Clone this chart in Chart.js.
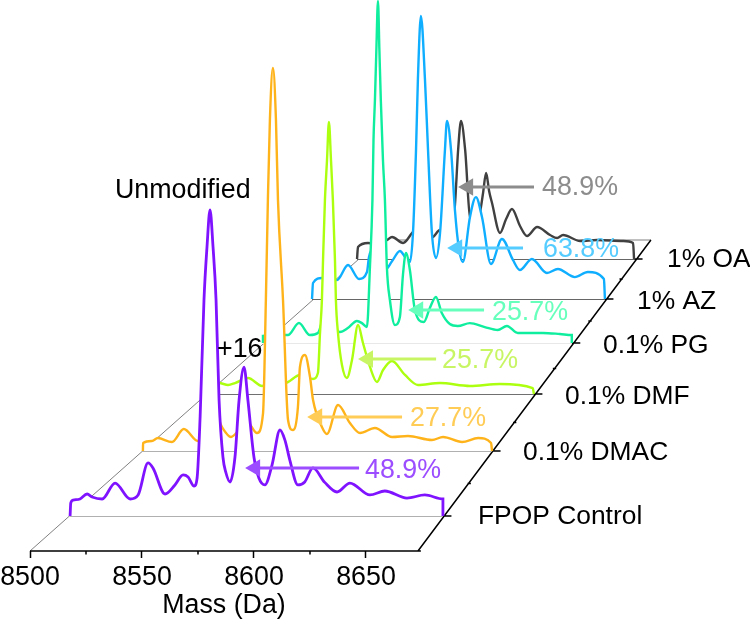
<!DOCTYPE html>
<html>
<head>
<meta charset="utf-8">
<title>Mass spectra waterfall</title>
<script src="https://cdn.jsdelivr.net/npm/chart.js@4"></script>
<style>
html, body { margin: 0; padding: 0; background: #fff; }
canvas { display: block; }
</style>
</head>
<body>
<canvas id="waterfall" width="750" height="621"></canvas>
<script>
var tick_values = [8500, 8550, 8600, 8650];
var minor_tick_values = [8525, 8575, 8625];
var sample_names = ["FPOP Control", "0.1% DMAC", "0.1% DMF", "0.1% PG", "1% AZ", "1% OA"];
var percent_labels = ["48.9%", "27.7%", "25.7%", "25.7%", "63.8%", "48.9%"];

var fpop_mass = [8500,8500.3,8501.4,8504.6,8507.9,8510.2,8514.9,8520.9,8527.9,8531.6,8536.2,8538.5,8544.1,8548.7,8552.5,8554.8,8557.6,8559,8560.4,8562.2,8563.6,8565,8566.4,8567.8,8569.2,8571,8572.4,8574.3,8576.6,8578.5,8580.8,8582.6,8585.4,8587.7,8590.5,8593.8,8597.5,8599.8,8602.1,8605.8,8609,8612.8,8618.3,8624,8630,8639.3,8646.2,8656.5,8664.8,8673.2,8673.2];
var fpop_int = [0,13.5,16.6,17.7,22.9,19.8,17.7,34.3,17.7,21.9,55.2,49.9,22.9,32.3,42.7,40.6,31.2,39.5,103,225,280,318.4,280,225,120.7,61.4,45,35.4,61.4,120.7,155,120.7,61.4,39.5,32.3,53,89.5,79,58,32.3,35.4,50,35,25,34.3,21.9,26,18.7,21.9,17.7,0];

var dmac_mass = [8500,8500.1,8504.5,8507.4,8514.4,8520.3,8527.3,8532.2,8536.2,8539.2,8543.7,8548.1,8552.1,8556.6,8559.6,8561,8562,8563,8564.5,8566,8567,8569.5,8572,8574.4,8576.9,8577.9,8580.4,8582.9,8584.4,8588.8,8591.3,8596.8,8602.7,8607.7,8615.1,8623.6,8631.5,8643.4,8648.9,8658.3,8666.3,8672.7,8673.2];
var dmac_int = [0,8.9,11.1,14.4,10,24.4,11.1,14,40,26.7,15.6,24,31,20,42.2,167.8,279,368,425.6,368,279,167.8,34.4,23.3,48.9,93.3,106.7,82.2,56.7,26.7,18.9,51.1,31.1,20,25.6,15.6,16.7,12.2,15.6,10,14.4,8.9,0];

var dmf_mass = [8500,8500,8502.1,8506.9,8511.6,8515.3,8522.2,8529.6,8536,8541.7,8549.6,8556.5,8559.1,8560.2,8561.2,8561.8,8562.8,8563.9,8564.9,8566,8567,8568.1,8568.6,8569.7,8571.8,8574.4,8577.1,8580.3,8582.9,8586.6,8590.3,8593.5,8598.2,8605.1,8611.9,8623.5,8639.4,8655.2,8672.6,8673.2];
var dmf_int = [0,7,11.8,13,10.7,13,18.9,9.5,23.7,13,22.5,17.8,24.9,72.2,111,158.6,229.6,276.9,321.9,276.9,229.6,158.6,111,72.2,34.3,18.9,40.2,81.7,60.4,32,14.2,28.4,39,22.5,10.7,13,9.5,11.8,7,0];

var pg_mass = [8500,8500,8503.9,8511.2,8514,8520.2,8526.3,8530.8,8535.3,8539.8,8543.2,8547.6,8552.7,8555.5,8558.3,8560,8561.4,8562,8562.8,8563.6,8564.5,8565.3,8566.1,8567.3,8568.4,8569.5,8571.2,8574,8576.8,8578.5,8580.2,8582.4,8585.2,8590.2,8593.6,8597,8600.3,8604.8,8609.3,8616,8624.4,8631.7,8636.8,8642.9,8649.7,8657,8666.5,8673.2,8673.2];
var pg_int = [0,8.8,12.6,10,10,25.1,10,12.6,39,17.6,13.8,18.8,27.6,25,20.1,95.5,179.6,255,305.3,368,429.6,368,305.3,229.9,179.6,95.5,54,22.6,32.7,85.4,113,91.7,41.5,26.4,44,57.8,37.7,23.9,21.4,25,20,16.3,21.4,12.6,12.6,12.6,11.3,10,0];

var az_mass = [8500,8500.6,8505.9,8510.6,8514.8,8521.3,8527.8,8532.5,8533.7,8536.1,8539.6,8543.1,8547.3,8552,8555,8557.9,8559.7,8561.5,8562.6,8564.4,8566.8,8568.6,8570.9,8573.3,8575.7,8578.6,8579.8,8582.2,8584.5,8586.9,8589.2,8593.4,8596.9,8600.5,8605.8,8612.3,8618.8,8622.9,8630,8638.9,8645.4,8655.4,8663.1,8672.6,8673.2];
var az_int = [0,21.2,27.8,26.5,25.2,45,26.5,35.8,55.6,66.2,50,38.4,50,63.6,55.6,49,87.4,197.4,290,374.8,290,197.4,87.4,54.3,87.4,197.4,235.8,197.4,117.9,66,49,108.6,135,108.6,46.4,79.5,51.7,38.4,53,34.4,39.7,29,35.8,26.5,0];

var oa_mass = [8500,8500.6,8506.9,8512.5,8518.8,8521.9,8528.8,8534.4,8538.1,8542.5,8547.5,8551.9,8555.7,8559.4,8561.3,8563.2,8565,8567.6,8570.7,8573.8,8576.9,8578.8,8580.7,8582.6,8584.4,8589.4,8593.2,8596.9,8601.9,8606.3,8612.6,8620.7,8625.1,8628.8,8639.5,8650.1,8666.4,8672.6,8673.2];
var oa_int = [0,16.8,22.4,21,26.6,30.8,22.4,36.4,46,28,30.8,40.6,30.8,35,78.4,152.7,193.3,152.7,58.8,56,65.8,92.4,120.4,95,78.4,36.4,56,70,46.2,32.2,44.8,33.6,29.4,33.6,25.2,26.6,25.2,22.4,0];

// depth of each spectrum: where its mass axis starts, its height and its shrink
var trace_left = [8517.9, 8550.4, 8578.6, 8604, 8625.9, 8646];
var trace_base = [35, 100, 157, 208, 252, 292];
var trace_scale = [0.961, 0.9, 0.845, 0.796, 0.755, 0.714];
var mass_range = 173.2;

var trace_colors = ["#7f12ff", "#ffb31a", "#abff0f", "#0fee9e", "#0faeff", "#404040"];
var label_colors = ["#9b4dff", "#ffcc55", "#c8f564", "#66ffbb", "#55ccff", "#8c8c8c"];
var base_colors = ["#b0b0b0", "#b0b0b0", "#707070", "#e8e8e8", "#666666", "#666666"];
var trace_widths = [2.8, 2.4, 2.4, 2.4, 2.4, 2.4];

var masses = [fpop_mass, dmac_mass, dmf_mass, pg_mass, az_mass, oa_mass];
var intensities = [fpop_int, dmac_int, dmf_int, pg_int, az_int, oa_int];

// arrows in axis units: tip mass, tail mass, height
var arrow_tip = [8596, 8623.7, 8646.4, 8668.8, 8686.2, 8691.1];
var arrow_tail = [8646.9, 8666.1, 8681.3, 8702.7, 8720.1, 8725];
var arrow_y = [83, 134, 192, 241, 303, 364];

var font = '"Liberation Sans", Arial, sans-serif';

function buildDatasets(){
    var datasets = [];
    var i;
    for(i = 0; i < arrow_tip.length; i++){
        datasets.push({
            data: [{x: arrow_tip[i] + 4.5, y: arrow_y[i]}, {x: arrow_tail[i], y: arrow_y[i]}],
            borderColor: label_colors[i],
            borderWidth: 3,
            pointRadius: [10, 0],
            pointStyle: "triangle",
            pointRotation: -90,
            pointBackgroundColor: label_colors[i],
            pointBorderWidth: 0,
            fill: false,
            clip: false
        });
    }
    for(i = 0; i < masses.length; i++){
        var points = [];
        for(var j = 0; j < masses[i].length; j++){
            points.push({
                x: trace_left[i] + (masses[i][j] - 8500) * trace_scale[i],
                y: trace_base[i] + intensities[i][j] * trace_scale[i]
            });
        }
        datasets.push({
            data: points,
            borderColor: trace_colors[i],
            borderWidth: trace_widths[i],
            pointRadius: 0,
            cubicInterpolationMode: "monotone",
            fill: {target: {value: trace_base[i]}, above: "#fff", below: "#fff"},
            clip: false
        });
        datasets.push({
            data: [{x: trace_left[i], y: trace_base[i]}, {x: trace_left[i] + mass_range * trace_scale[i], y: trace_base[i]}],
            borderColor: base_colors[i],
            borderWidth: 2,
            pointRadius: 0,
            fill: false,
            clip: false
        });
    }
    // frame: bottom edge, right edge, back edge, left edge, ticks
    var end = 8500 + mass_range;
    var frame = [
        {x: 8500, y: 0}, {x: end + 1.3, y: 0}, {x: NaN, y: NaN},
        {x: end, y: 0}, {x: 8777.2, y: 311}, {x: NaN, y: NaN}
    ];
    minor_tick_values.forEach(function(v){
        frame.push({x: v, y: 0}, {x: v, y: -3.5}, {x: NaN, y: NaN});
    });
    for(i = 0; i < trace_left.length; i++){
        var right = trace_left[i] + mass_range * trace_scale[i];
        frame.push({x: right, y: trace_base[i]}, {x: right + 3.8, y: trace_base[i]}, {x: NaN, y: NaN});
        if(i < trace_left.length - 1){
            var next = trace_left[i + 1] + mass_range * trace_scale[i + 1];
            var mid_x = (right + next) / 2;
            var mid_y = (trace_base[i] + trace_base[i + 1]) / 2;
            frame.push({x: mid_x, y: mid_y}, {x: mid_x + 1.5, y: mid_y}, {x: NaN, y: NaN});
        }
    }
    datasets.push({data: frame, borderColor: "#000", borderWidth: 1.5, pointRadius: 0, fill: false, clip: false, spanGaps: false});
    datasets.push({
        data: [{x: 8500, y: 0}, {x: 8656.4, y: 311}, {x: 8777.2, y: 311}],
        borderColor: "#808080",
        borderWidth: 1,
        pointRadius: 0,
        fill: false,
        clip: false
    });
    return datasets;
}

var textPlugin = {
    id: "textPlugin",
    afterDraw: function(chart){
        var ctx = chart.ctx;
        var name_x = [478, 523, 565, 603, 637, 667];
        var name_y = [517, 453, 397, 346, 302, 260];
        var pct_x = [365, 410, 442, 492, 543, 542];
        var pct_y = [471, 419, 361, 313, 250, 188];
        ctx.save();
        ctx.textBaseline = "middle";
        ctx.textAlign = "left";
        for(var i = 0; i < sample_names.length; i++){
            ctx.font = "26.4px " + font;
            ctx.fillStyle = "#000";
            ctx.fillText(sample_names[i], name_x[i], name_y[i]);
            ctx.font = "26.8px " + font;
            ctx.fillStyle = label_colors[i];
            ctx.fillText(percent_labels[i], pct_x[i], pct_y[i]);
        }
        ctx.fillStyle = "#000";
        ctx.fillText("Unmodified", 115, 191);
        ctx.fillText("+16", 217, 350);
        ctx.textAlign = "center";
        ctx.fillText("Mass (Da)", 224, 606);
        ctx.restore();
    }
};

new Chart(document.getElementById("waterfall").getContext("2d"), {
    type: "line",
    data: {datasets: buildDatasets()},
    plugins: [textPlugin],
    options: {
        responsive: false,
        animation: false,
        layout: {autoPadding: false, padding: {left: 30, right: 0, top: 0, bottom: 0}},
        plugins: {legend: {display: false}, tooltip: {enabled: false}},
        scales: {
            x: {
                type: "linear",
                min: 8500,
                max: 8821.43,
                afterBuildTicks: function(axis){
                    axis.ticks = tick_values.map(function(v){ return {value: v}; });
                },
                afterFit: function(axis){
                    axis.height = 70;
                    axis.paddingLeft = 0;
                    axis.paddingRight = 0;
                },
                border: {display: false},
                grid: {drawOnChartArea: false, tickLength: 7, tickColor: "#000", tickWidth: 1.5},
                ticks: {
                    color: "#000",
                    font: {family: font, size: 26.8},
                    padding: 4,
                    autoSkip: false,
                    maxRotation: 0,
                    callback: function(v){ return String(v); }
                }
            },
            y: {type: "linear", min: 0, max: 551, display: false}
        }
    }
});
</script>
</body>
</html>
